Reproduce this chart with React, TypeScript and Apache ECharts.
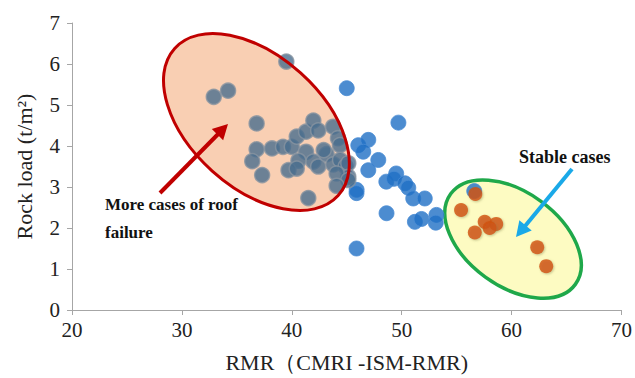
import React, { useEffect, useRef } from "react";
import * as echarts from "echarts";

const xTicks = [20, 30, 40, 50, 60, 70];
const yTicks = [0, 1, 2, 3, 4, 5, 6, 7];

// cases inside the roof-failure ellipse
const failurePoints: number[][] = [
  [32.9, 5.2], [34.2, 5.35], [39.5, 6.06], [36.8, 4.55], [36.8, 3.92],
  [36.4, 3.63], [37.3, 3.29], [38.2, 3.94], [39.2, 3.98], [40.0, 3.98],
  [40.45, 4.23], [41.3, 4.35], [41.96, 4.62], [42.4, 4.38], [41.3, 3.86],
  [41.96, 3.62], [42.4, 3.5], [40.6, 3.64], [39.7, 3.41], [40.45, 3.45],
  [41.5, 2.73], [43.76, 4.47], [44.2, 4.19], [44.38, 4.02], [43.17, 3.8],
  [43.78, 3.55], [44.39, 3.66], [44.9, 3.5], [45.14, 3.58], [45.14, 3.25],
  [44.08, 3.33], [45.14, 3.17], [44.08, 3.03], [42.9, 3.9],
];

// other cases (blue)
const otherPoints: number[][] = [
  [45.0, 5.41], [49.7, 4.57], [46.05, 4.02], [46.96, 4.15], [46.5, 3.86],
  [47.87, 3.66], [46.96, 3.41], [45.9, 2.93], [45.89, 2.85], [49.5, 3.33],
  [48.6, 3.13], [49.3, 3.2], [50.3, 3.09], [50.6, 2.98], [51.05, 2.72],
  [52.1, 2.72], [48.62, 2.36], [51.2, 2.15], [51.8, 2.22], [53.16, 2.32],
  [53.1, 2.13], [45.89, 1.5], [56.6, 2.9],
];

// stable cases (orange)
const stablePoints: number[][] = [
  [56.7, 2.83], [55.4, 2.44], [57.55, 2.15], [58.6, 2.1], [58.0, 2.0],
  [56.65, 1.89], [62.33, 1.53], [63.15, 1.07],
];

const FONT = '"Liberation Serif", "Times New Roman", serif';

export default function App() {
  const ref = useRef<HTMLDivElement>(null);
  useEffect(() => {
    if (!ref.current) return;
    const chart = echarts.init(ref.current, undefined, { renderer: "svg" });
    const axisCommon = {
      axisLine: { show: true, lineStyle: { color: "#A6A6A6", width: 1 } },
      axisTick: { show: true, length: 5, inside: false, lineStyle: { color: "#A6A6A6" } },
      splitLine: { show: false },
      axisLabel: { fontFamily: FONT, fontSize: 21, color: "#222" },
      nameTextStyle: { fontFamily: FONT, fontSize: 22, color: "#222" },
    };
    chart.setOption({
      animation: false,
      backgroundColor: "#fff",
      grid: { left: 72, right: 11, top: 23, bottom: 68 },
      xAxis: {
        type: "value",
        min: xTicks[0],
        max: xTicks[xTicks.length - 1],
        interval: 10,
        name: "RMR（CMRI -ISM-RMR)",
        nameLocation: "middle",
        nameGap: 41,
        ...axisCommon,
        axisLabel: { ...axisCommon.axisLabel, margin: 9 },
      },
      yAxis: {
        type: "value",
        min: yTicks[0],
        max: yTicks[yTicks.length - 1],
        interval: 1,
        name: "Rock load (t/m²)",
        nameLocation: "middle",
        nameGap: 37,
        ...axisCommon,
        axisLabel: { ...axisCommon.axisLabel, margin: 12 },
      },
      series: [
        {
          type: "scatter",
          data: otherPoints,
          symbolSize: 15,
          z: 3,
          itemStyle: { color: "#1F6FC4", borderColor: "#4A8CD4", borderWidth: 1 },
        },
        {
          type: "scatter",
          data: failurePoints,
          symbolSize: 15,
          z: 3,
          itemStyle: { color: "#486D8D", borderColor: "#8794A0", borderWidth: 1.5 },
        },
        {
          type: "scatter",
          data: stablePoints,
          symbolSize: 14,
          z: 4,
          itemStyle: {
            color: "#D2500E",
            shadowColor: "rgba(120,120,60,0.5)",
            shadowBlur: 2,
            shadowOffsetX: 1,
            shadowOffsetY: 1,
          },
        },
      ],
    });

    const p = (x: number, y: number) => chart.convertToPixel({ gridIndex: 0 }, [x, y]) as number[];
    const redC = p(36.78, 4.585);
    const greenC = p(60.13, 1.73);

    const arrow = (x1: number, y1: number, x2: number, y2: number, color: string, w: number, hl: number, hw: number) => {
      const dx = x2 - x1, dy = y2 - y1;
      const len = Math.sqrt(dx * dx + dy * dy);
      const ux = dx / len, uy = dy / len;
      const bx = x2 - ux * hl, by = y2 - uy * hl;
      const nx = -uy, ny = ux;
      return [
        { type: "line", z: 20, shape: { x1, y1, x2: bx + ux * 1, y2: by + uy * 1 }, style: { stroke: color, lineWidth: w } },
        {
          type: "polygon",
          z: 20,
          shape: { points: [[x2, y2], [bx + nx * hw, by + ny * hw], [bx - nx * hw, by - ny * hw]] },
          style: { fill: color },
        },
      ];
    };

    chart.setOption({
      graphic: [
        {
          type: "ellipse",
          z: 1,
          x: redC[0],
          y: redC[1],
          rotation: (-42 * Math.PI) / 180,
          shape: { cx: 0, cy: 0, rx: 110, ry: 66 },
          style: { fill: "#F9CFB3", stroke: "none" },
        },
        {
          type: "ellipse",
          z: 15,
          x: redC[0],
          y: redC[1],
          rotation: (-42 * Math.PI) / 180,
          shape: { cx: 0, cy: 0, rx: 110, ry: 66 },
          style: { fill: "none", stroke: "#C00000", lineWidth: 3 },
        },
        {
          type: "ellipse",
          z: 1,
          x: greenC[0],
          y: greenC[1],
          rotation: (-36 * Math.PI) / 180,
          shape: { cx: 0, cy: 0, rx: 77, ry: 47 },
          style: { fill: "#FDFBC2", stroke: "#1FA84A", lineWidth: 3.5 },
        },
        ...arrow(160, 193, 228, 124, "#C00000", 4, 15, 8),
        ...arrow(572, 169, 516, 237, "#1AA9E8", 4, 15, 8),
        {
          type: "text",
          z: 20,
          style: { text: "More cases of roof", x: 105, y: 204, font: `bold 17px ${FONT}`, fill: "#111", verticalAlign: "middle" },
        },
        {
          type: "text",
          z: 20,
          style: { text: "failure", x: 105, y: 232, font: `bold 17px ${FONT}`, fill: "#111", verticalAlign: "middle" },
        },
        {
          type: "text",
          z: 20,
          style: { text: "Stable cases", x: 519, y: 157, font: `bold 18px ${FONT}`, fill: "#111", verticalAlign: "middle" },
        },
      ],
    });

    return () => chart.dispose();
  }, []);
  return <div ref={ref} style={{ position: "fixed", left: 0, top: 0, width: 635, height: 378 }} />;
}
